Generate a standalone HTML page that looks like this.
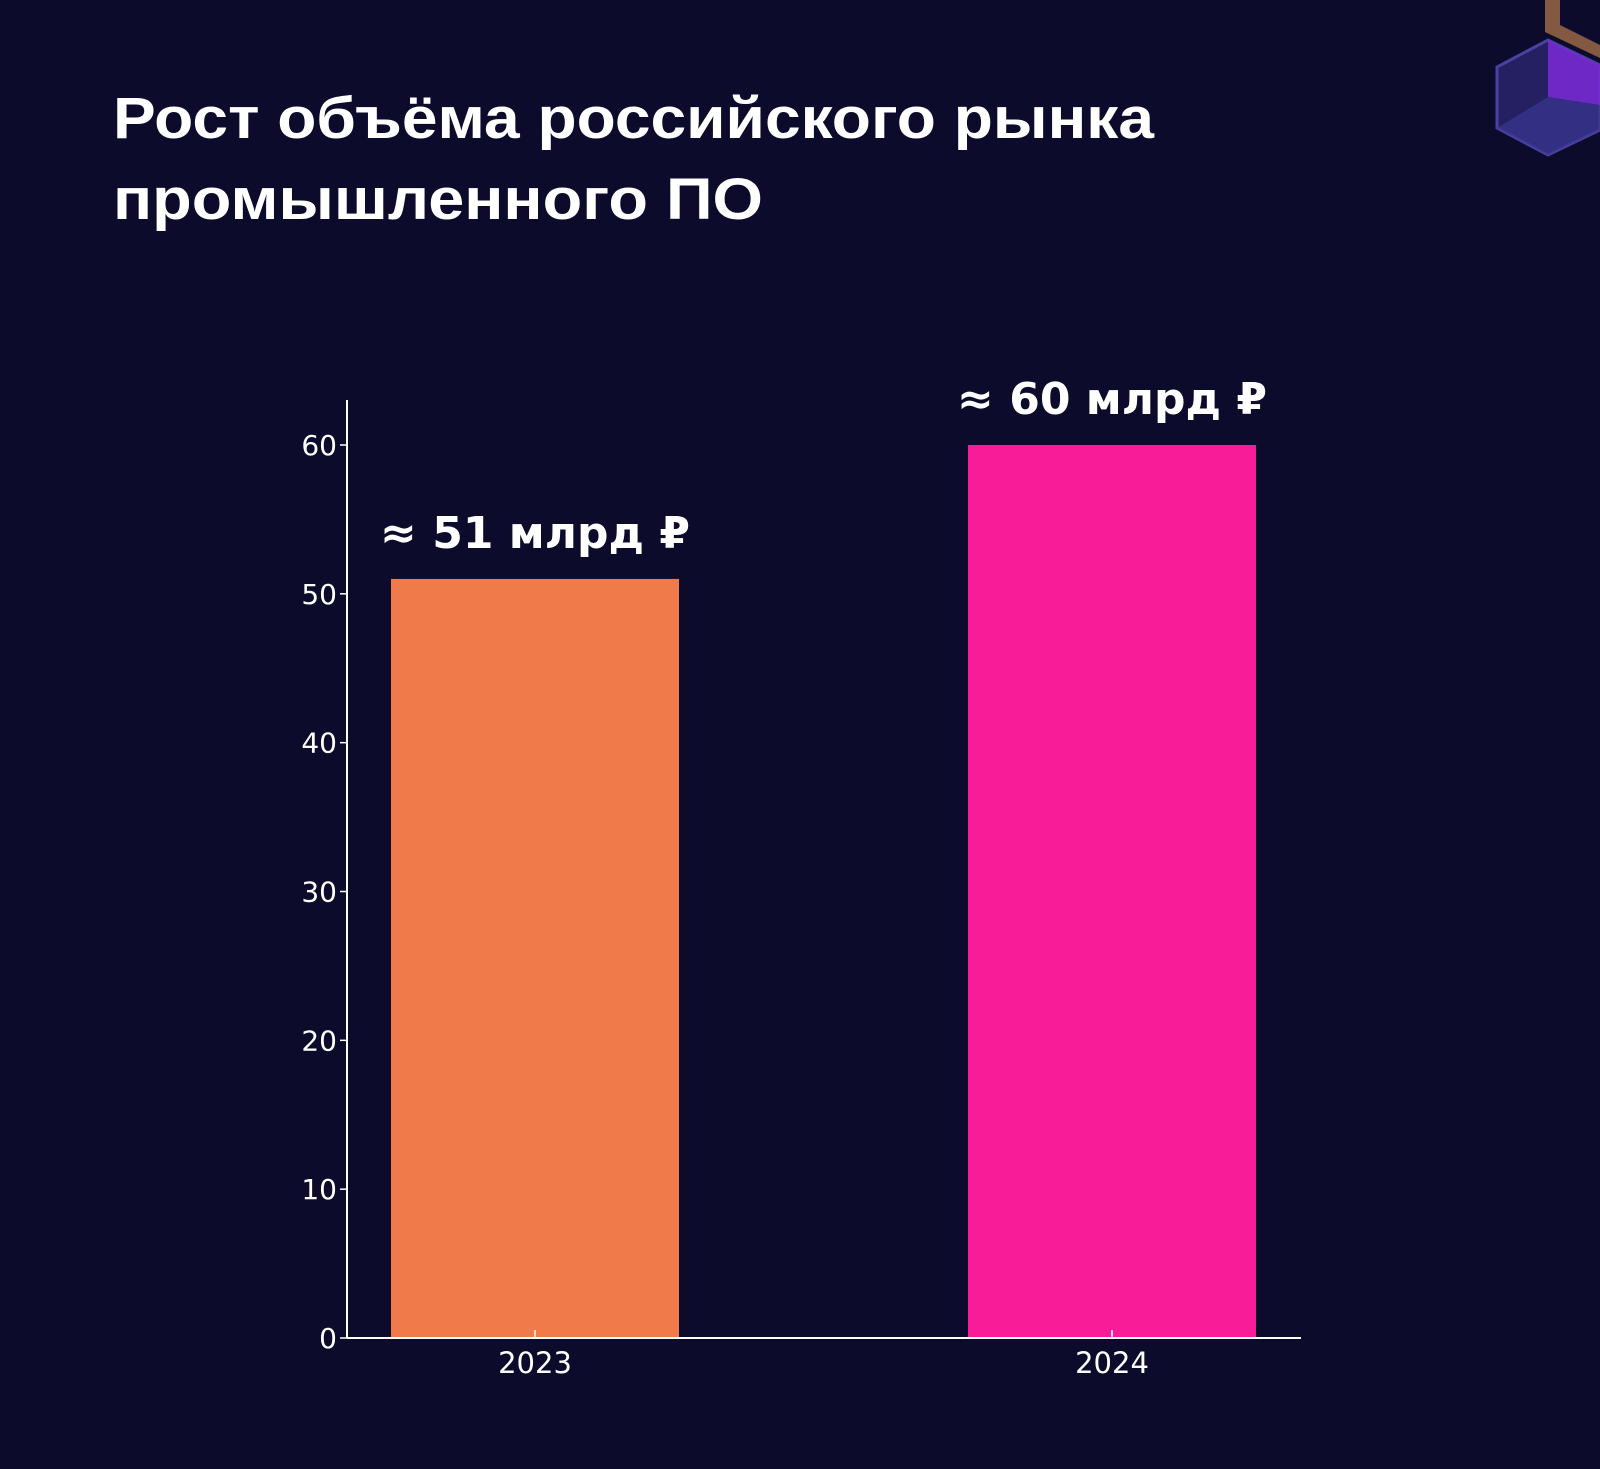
<!DOCTYPE html>
<html><head><meta charset="utf-8"><style>
html,body{margin:0;padding:0;background:#0c0b2c;}
svg{display:block;}
</style></head><body>
<svg width="1600" height="1469" viewBox="0 0 1600 1469" xmlns="http://www.w3.org/2000/svg">
<rect width="1600" height="1469" fill="#0c0b2c"/>
<g>
  <polygon points="1548,40 1600,65 1600,130 1548,155 1497,128 1497,67" fill="#2a2670" opacity="0.8" stroke="#5a4fc0" stroke-width="3"/>
  <polygon points="1548,40 1600,65 1600,105 1548,97" fill="#7a2ad8" opacity="0.85"/>
  <polygon points="1548,97 1600,105 1600,130 1548,155 1497,128" fill="#3a3690" opacity="0.7"/>
  <polygon points="1545,0 1560,0 1560,25 1600,45 1600,58 1545,32" fill="#b77a4a" opacity="0.7"/>
</g>
<g font-family="'Liberation Sans', sans-serif" font-weight="bold" font-size="58" fill="#ffffff">
  <text x="113" y="138" textLength="1041" lengthAdjust="spacingAndGlyphs">Рост объёма российского рынка</text>
  <text x="113" y="219" textLength="650" lengthAdjust="spacingAndGlyphs">промышленного ПО</text>
</g>
<g id="plot"></g>
</svg>
<script>
const categories = ["2023", "2024"];
const values = [51, 60];
const barLabels = ["≈ 51 млрд ₽", "≈ 60 млрд ₽"];
const barColors = ["#f07a4a", "#f81c98"];
const yTicks = [0, 10, 20, 30, 40, 50, 60];

const NS = "http://www.w3.org/2000/svg";
const g = document.getElementById("plot");
const x0 = 347, x1 = 1301, yBase = 1338, yTop = 400;
const yScale = v => yBase - v * (1338 - 445) / 60;
const xCenter = i => 535 + i * (1112 - 535);
const barW = 288;
function mk(tag, attrs) { const e = document.createElementNS(NS, tag); for (const k in attrs) e.setAttribute(k, attrs[k]); g.appendChild(e); return e; }

categories.forEach((c, i) => {
  const r = mk("rect", {x: xCenter(i) - barW/2, y: yScale(values[i]), width: barW, height: yBase - yScale(values[i]), fill: barColors[i]});
  
  
  const t = mk("text", {x: xCenter(i), y: yScale(values[i]) - 31, "text-anchor": "middle", "font-family": "'DejaVu Sans', sans-serif", "font-weight": "bold", "font-size": "44", fill: "#ffffff"});
  t.textContent = barLabels[i];
  
  
  const tk = mk("line", {x1: xCenter(i), x2: xCenter(i), y1: yBase, y2: yBase - 8, stroke: "#ffffff", "stroke-width": 1.5});
  
  
  const xl = mk("text", {x: xCenter(i), y: yBase + 35, "text-anchor": "middle", "font-family": "'DejaVu Sans', sans-serif", "font-size": "29", fill: "#ffffff"});
  xl.textContent = c;
  
  
});

yTicks.forEach(v => {
  const l = mk("line", {x1: x0 - 7, x2: x0, y1: yScale(v), y2: yScale(v), stroke: "#ffffff", "stroke-width": 1.5});
  
  
  const t = mk("text", {x: x0 - 10, y: yScale(v) + 10, "text-anchor": "end", "font-family": "'DejaVu Sans', sans-serif", "font-size": "28", fill: "#ffffff"});
  t.textContent = v;
  
  
});

const ya = mk("line", {x1: x0, x2: x0, y1: yTop, y2: yBase, stroke: "#ffffff", "stroke-width": 2});


const xa = mk("line", {x1: x0, x2: x1, y1: yBase, y2: yBase, stroke: "#ffffff", "stroke-width": 2});


</script>
</body></html>
